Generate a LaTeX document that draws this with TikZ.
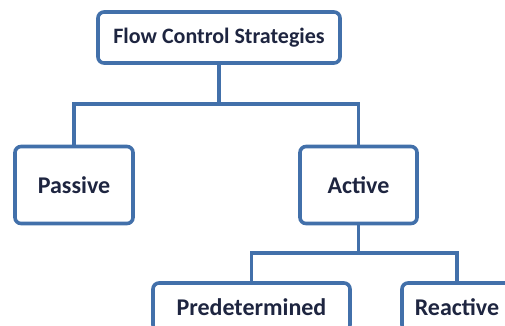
\documentclass[tikz,border=0pt]{standalone}
\usepackage{fontspec}
\setmainfont{Carlito}
\definecolor{boxblue}{HTML}{4270AA}
\definecolor{txt}{HTML}{1E2540}
\begin{document}
\begin{tikzpicture}[x=1pt,y=-1pt,
  box/.style={draw=boxblue,line width=3.6pt,rounded corners=6pt,fill=white,
    text=txt,font=\bfseries\fontsize{24}{26}\selectfont,inner sep=0pt,anchor=center},
  conn/.style={draw=boxblue,line width=3.6pt}]
\useasboundingbox (0,0) rectangle (505,325);
\clip (0,0) rectangle (505,325);
\node[box,minimum width=242,minimum height=51,font=\bfseries\fontsize{22}{24}\selectfont] (top) at (219,37.5) {Flow Control Strategies};
\node[box,minimum width=118,minimum height=77] (passive) at (74,185) {Passive};
\node[box,minimum width=117,minimum height=77] (active) at (358.5,185) {Active};
\node[box,minimum width=197,minimum height=48] (pred) at (251.5,307) {Predetermined};
\node[box,minimum width=110,minimum height=48] (react) at (457,307) {Reactive};
\coordinate (j1) at (219,104);
\coordinate (j2) at (358.5,253);
\draw[conn] (top.south) -- (j1);
\draw[conn] (passive.north) |- (j1);
\draw[conn] (active.north) |- (j1);
\draw[conn] (active.south) -- (j2);
\draw[conn] (pred.north) |- (j2);
\draw[conn] (react.north) |- (j2);
\end{tikzpicture}
\end{document}
